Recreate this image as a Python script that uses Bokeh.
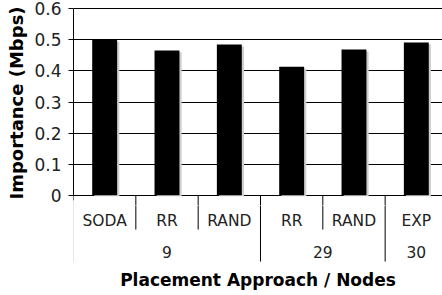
from bokeh.plotting import figure
from bokeh.layouts import column
from bokeh.models import ColumnDataSource, Range1d, FixedTicker
from bokeh.core.properties import value
from bokeh.transform import dodge
from bokeh.embed import file_html
from bokeh.resources import INLINE

# ---- data ----
approaches = ["SODA", "RR", "RAND", "RR", "RAND", "EXP"]
groups = ["9", "29", "30"]
group_sizes = [3, 2, 1]
importance = [0.500, 0.466, 0.485, 0.414, 0.469, 0.492]
y_ticks = [0, 0.1, 0.2, 0.3, 0.4, 0.5, 0.6]
y_tick_labels = ["0", "0.1", "0.2", "0.3", "0.4", "0.5", "0.6"]

FONT = "DejaVu Sans"
n = len(approaches)
xs = [i + 0.5 for i in range(n)]

src = ColumnDataSource(dict(x=xs, top=importance, label=approaches,
                            shadow_top=[v - 0.006 for v in importance]))
x_range = Range1d(0, 5.92)

# ---------- top: bars ----------
p = figure(width=442, height=205, output_backend="svg", toolbar_location=None,
           x_range=x_range, y_range=Range1d(-0.0326, 0.6267),
           x_axis_location=None,
           min_border_left=73, min_border_right=0, min_border_top=0,
           min_border_bottom=0)
p.outline_line_color = None
p.background_fill_color = "white"
p.border_fill_color = "white"
p.xgrid.visible = False
p.ygrid.ticker = FixedTicker(ticks=y_ticks)
p.ygrid.grid_line_color = "black"
p.ygrid.grid_line_width = 1

ya = p.yaxis[0]
ya.ticker = FixedTicker(ticks=y_ticks)
ya.bounds = (0, 0.6)
ya.major_label_overrides = {t: l for t, l in zip(y_ticks, y_tick_labels)}
ya.major_tick_out = 5
ya.major_tick_in = 0
ya.minor_tick_line_color = None
ya.axis_line_color = "black"
ya.major_tick_line_color = "black"
ya.major_label_text_font = FONT
ya.major_label_text_font_size = "17px"
ya.major_label_text_color = "#222222"
ya.major_label_standoff = 7
ya.axis_label = "Importance (Mbps)"
ya.axis_label_text_font = FONT
ya.axis_label_text_font_size = "18px"
ya.axis_label_text_font_style = "bold"
ya.axis_label_text_color = "black"
ya.axis_label_standoff = 4

p.vbar(x=dodge("x", 0.035, range=x_range), top="shadow_top", width=0.4,
       bottom=-0.003, source=src, fill_color="#cfcfcf", line_color=None)
p.vbar(x="x", top="top", width=0.4, bottom=0, source=src,
       fill_color="black", line_color=None)

# ---------- bottom: category axis ----------
q = figure(width=442, height=90, output_backend="svg", toolbar_location=None,
           x_range=x_range, y_range=Range1d(-0.216, -0.0326),
           y_axis_location=None,
           min_border_left=73, min_border_right=0, min_border_top=0,
           min_border_bottom=33)
q.outline_line_color = None
q.background_fill_color = "white"
q.border_fill_color = "white"
q.xgrid.visible = False
q.ygrid.visible = False

xa = q.xaxis[0]
xa.ticker = FixedTicker(ticks=[])
xa.axis_line_color = None
xa.major_tick_line_color = None
xa.minor_tick_line_color = None
xa.axis_label = "Placement Approach / Nodes"
xa.axis_label_text_font = FONT
xa.axis_label_text_font_size = "17px"
xa.axis_label_text_font_style = "bold"
xa.axis_label_text_color = "black"
xa.axis_label_standoff = 7

bounds = []
acc = 0
for s in group_sizes:
    acc += s
    bounds.append(acc)
inner = [i for i in range(1, n) if i not in bounds]
outer = [b for b in bounds if b < n]

for f in (p, q):
    f.segment(x0=[0], y0=[0], x1=[0], y1=[-0.216], line_color="#d0d0d0", line_width=1)
    f.segment(x0=[0], y0=[0], x1=[0], y1=[-0.016], line_color="black", line_width=1)
    f.segment(x0=inner, y0=[0] * len(inner), x1=inner, y1=[-0.11] * len(inner),
              line_color="black", line_width=1)
    f.segment(x0=outer, y0=[0] * len(outer), x1=outer, y1=[-0.213] * len(outer),
              line_color="black", line_width=1)

q.text(x="x", y=-0.083, text="label", source=src, text_align="center",
       text_baseline="middle", text_font=value(FONT), text_font_size="15.5px",
       text_color="#222222")
starts = [b - s for b, s in zip(bounds, group_sizes)]
gx = [(a + b) / 2 for a, b in zip(starts, bounds)]
q.text(x=gx, y=[-0.181] * len(gx), text=groups, text_align="center",
       text_baseline="middle", text_font=value(FONT), text_font_size="15.5px",
       text_color="#222222")

layout = column(p, q, spacing=0)
open("out.html", "w").write(file_html(layout, INLINE))
